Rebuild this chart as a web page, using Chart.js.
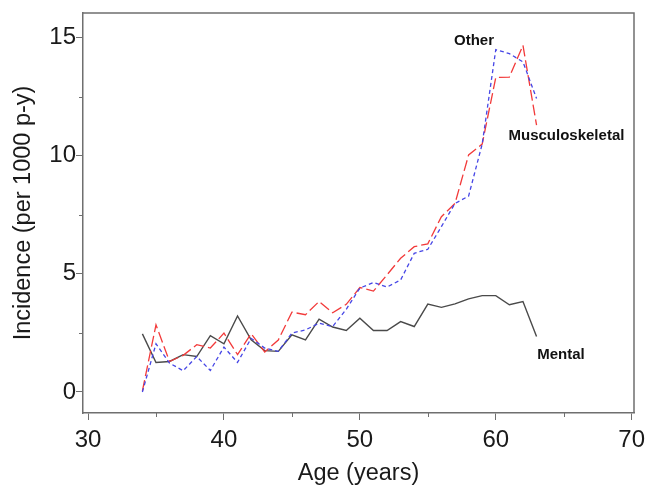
<!DOCTYPE html>
<html>
<head>
<meta charset="utf-8">
<script src="https://cdn.jsdelivr.net/npm/chart.js@4/dist/chart.umd.min.js"></script>
<style>
html,body{margin:0;padding:0;background:#fff;}
canvas{display:block;}
</style>
</head>
<body>
<canvas id="c" width="645" height="494"></canvas>
<script>
const ages = [34,35,36,37,38,39,40,41,42,43,44,45,46,47,48,49,50,51,52,53,54,55,56,57,58,59,60,61,62,63];
const mental = [2.46,1.25,1.29,1.58,1.50,2.38,2.04,3.22,2.21,1.75,1.72,2.42,2.20,3.08,2.75,2.60,3.12,2.60,2.60,2.98,2.77,3.72,3.58,3.73,3.94,4.08,4.08,3.69,3.83,2.35];
const musculoskeletal = [0.05,2.84,1.29,1.55,2.00,1.86,2.49,1.58,2.47,1.69,2.20,3.38,3.27,3.83,3.35,3.71,4.42,4.27,4.96,5.66,6.15,6.27,7.42,7.98,10.03,10.49,13.31,13.33,14.67,11.29];
const other = [0.00,2.04,1.22,0.90,1.50,0.91,1.90,1.25,2.27,1.86,1.72,2.49,2.63,2.91,2.77,3.50,4.40,4.63,4.44,4.74,5.87,6.04,7.00,7.98,8.29,10.49,14.49,14.32,13.97,12.42];
const xTicks = [30,40,50,60,70];
const xMinorTicks = [35,45,55,65];
const yTicks = [0,5,10,15];
const yMinorTicks = [2.5,7.5,12.5];
const seriesLabels = ["Mental","Musculoskeletal","Other"];

const FONT = "'Liberation Sans', Arial, sans-serif";
const AXIS_COLOR = '#6f6f6f';

function pts(vals){ return ages.map((a,i)=>({x:a,y:vals[i]})); }

const annot = {
  id:'annot',
  afterDraw(chart){
    const {ctx, chartArea:ca, scales:{x,y}} = chart;
    ctx.save();
    ctx.strokeStyle = AXIS_COLOR;
    ctx.lineWidth = 1.5;
    ctx.beginPath();
    ctx.moveTo(ca.left, ca.top); ctx.lineTo(ca.right, ca.top); ctx.lineTo(ca.right, ca.bottom);
    ctx.stroke();
    ctx.lineWidth = 1;
    ctx.beginPath();
    yMinorTicks.forEach(v=>{ const py = Math.round(y.getPixelForValue(v))+0.5; ctx.moveTo(ca.left-4, py); ctx.lineTo(ca.left, py); });
    xMinorTicks.forEach(v=>{ const px = Math.round(x.getPixelForValue(v))+0.5; ctx.moveTo(px, ca.bottom); ctx.lineTo(px, ca.bottom+4); });
    ctx.stroke();
    ctx.fillStyle = '#111';
    ctx.font = 'bold 15px ' + FONT;
    ctx.textAlign = 'center';
    ctx.textBaseline = 'middle';
    const lab = [[seriesLabels[2],58.4,14.88],[seriesLabels[1],65.2,10.85],[seriesLabels[0],64.8,1.58]];
    lab.forEach(([t,vx,vy])=>{ ctx.fillText(t, x.getPixelForValue(vx), y.getPixelForValue(vy)); });
    ctx.restore();
  }
};

new Chart(document.getElementById('c'), {
  type:'line',
  data:{
    datasets:[
      {label:seriesLabels[0], data:pts(mental), borderColor:'#4a4a4a', borderWidth:1.4, pointRadius:0, tension:0, order:3},
      {label:seriesLabels[1], data:pts(musculoskeletal), borderColor:'#f23a3a', borderWidth:1.3, borderDash:[11,4], pointRadius:0, tension:0, order:2},
      {label:seriesLabels[2], data:pts(other), borderColor:'#4646e6', borderWidth:1.3, borderDash:[4,3], pointRadius:0, tension:0, order:1}
    ]
  },
  options:{
    responsive:false,
    animation:false,
    layout:{padding:{top:13,right:11,left:0,bottom:0}},
    plugins:{legend:{display:false}, tooltip:{enabled:false}},
    scales:{
      x:{
        type:'linear', min:29.63, max:70.17,
        afterBuildTicks(s){ s.ticks = xTicks.map(v=>({value:v})); },
        afterFit(s){ s.height = 81; s.paddingLeft = 0; s.paddingRight = 0; },
        grid:{drawOnChartArea:false, drawTicks:true, tickLength:7, tickColor:AXIS_COLOR, tickWidth:1},
        border:{display:true, color:AXIS_COLOR, width:1.5},
        ticks:{font:{family:FONT, size:24}, color:'#1a1a1a', padding:6, maxRotation:0, autoSkip:false},
        title:{display:true, text:'Age (years)', font:{family:FONT, size:23.5}, color:'#1a1a1a', padding:{top:0,bottom:6}}
      },
      y:{
        type:'linear', min:-0.89, max:16.04,
        afterBuildTicks(s){ s.ticks = yTicks.map(v=>({value:v})); },
        afterFit(s){ s.width = 83; s.paddingTop = 0; s.paddingBottom = 0; },
        grid:{drawOnChartArea:false, drawTicks:true, tickLength:7, tickColor:AXIS_COLOR, tickWidth:1},
        border:{display:true, color:AXIS_COLOR, width:1.5},
        ticks:{font:{family:FONT, size:24}, color:'#1a1a1a', padding:0},
        title:{display:true, text:'Incidence (per 1000 p-y)', font:{family:FONT, size:23.5}, color:'#1a1a1a', padding:{top:9,bottom:0}}
      }
    }
  },
  plugins:[annot]
});
</script>
</body>
</html>
